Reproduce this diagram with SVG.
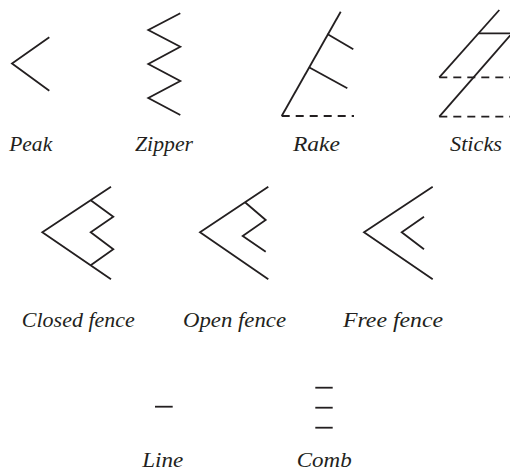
<svg xmlns="http://www.w3.org/2000/svg" width="510" height="470" viewBox="0 0 510 470">
<style>
.s{fill:none;stroke:#231f20;stroke-width:1.8;stroke-linejoin:miter;stroke-linecap:butt}
.d{fill:none;stroke:#231f20;stroke-width:1.8;stroke-dasharray:8 6}
.t{font-family:"Liberation Serif",serif;font-style:italic;font-size:21px;fill:#231f20;text-anchor:middle}
</style>
<rect width="510" height="470" fill="#fff"/>
<g id="peak">
<polyline class="s" points="49.3,37.3 12,63.5 49.3,90.7"/>
<text class="t" x="30.7" y="150.5" textLength="43" lengthAdjust="spacingAndGlyphs">Peak</text>
</g>
<g id="zipper">
<polyline class="s" points="180.3,13.3 148.3,30 180.3,46.7 148.3,64 180.3,81 148.3,98 180.3,115"/>
<text class="t" x="164" y="150.5" textLength="58" lengthAdjust="spacingAndGlyphs">Zipper</text>
</g>
<g id="rake">
<polyline class="s" points="340.7,11.7 281.7,116"/>
<line class="s" x1="327.3" y1="34" x2="353.3" y2="49.3"/>
<line class="s" x1="309" y1="67.3" x2="347.3" y2="88.3"/>
<line class="d" x1="281.7" y1="116" x2="354" y2="116"/>
<text class="t" x="316.5" y="150.5" textLength="47" lengthAdjust="spacingAndGlyphs">Rake</text>
</g>
<g id="sticks">
<line class="s" x1="499.3" y1="10" x2="439.3" y2="77.3"/>
<line class="s" x1="478.3" y1="33.3" x2="512" y2="33.3"/>
<line class="s" x1="514" y1="31" x2="439.3" y2="116.7"/>
<line class="d" x1="439.3" y1="77.3" x2="512" y2="77.3"/>
<line class="d" x1="439.3" y1="116.7" x2="512" y2="116.7"/>
<text class="t" x="476" y="150.5" textLength="52" lengthAdjust="spacingAndGlyphs">Sticks</text>
</g>
<g id="closed-fence">
<polyline class="s" points="111,186.7 42.3,232.3 111,279.3"/>
<polyline class="s" points="90.7,200.2 113.3,216.7 90.7,232.3 113.3,249.3 90.7,265.3"/>
<text class="t" x="78.3" y="326.5" textLength="113" lengthAdjust="spacingAndGlyphs">Closed fence</text>
</g>
<g id="open-fence">
<polyline class="s" points="268.3,186.7 200,232.3 268.3,279.3"/>
<polyline class="s" points="245,202.3 265.7,220 242.7,236 265.7,251.7"/>
<text class="t" x="234.5" y="326.5" textLength="103" lengthAdjust="spacingAndGlyphs">Open fence</text>
</g>
<g id="free-fence">
<polyline class="s" points="432.7,186.7 364,232.3 432.7,279.3"/>
<polyline class="s" points="424,216.7 401.7,232.3 424,249.3"/>
<text class="t" x="393" y="326.5" textLength="100" lengthAdjust="spacingAndGlyphs">Free fence</text>
</g>
<g id="line">
<line class="s" x1="155" y1="406.7" x2="172.7" y2="406.7"/>
<text class="t" x="162.8" y="466.5" textLength="41" lengthAdjust="spacingAndGlyphs">Line</text>
</g>
<g id="comb">
<line class="s" x1="315.3" y1="387.7" x2="332.7" y2="387.7"/>
<line class="s" x1="315.3" y1="407.7" x2="332.7" y2="407.7"/>
<line class="s" x1="315.3" y1="427.7" x2="332.7" y2="427.7"/>
<text class="t" x="324.2" y="466.5" textLength="55" lengthAdjust="spacingAndGlyphs">Comb</text>
</g>
<g id="connectors"/>
</svg>
